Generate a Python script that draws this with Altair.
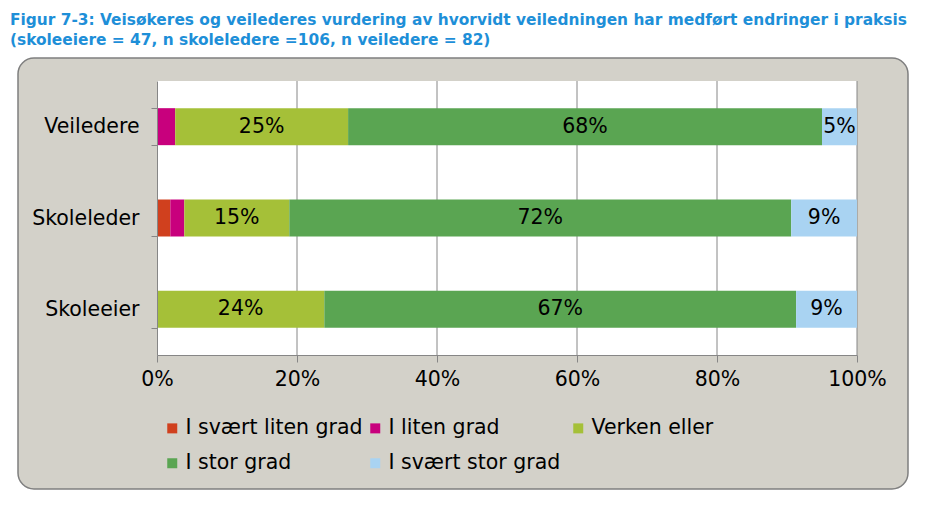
import altair as alt
import pandas as pd

# ---- data ----
categories = ["Veiledere", "Skoleleder", "Skoleeier"]
series = ["I svært liten grad", "I liten grad", "Verken eller", "I stor grad", "I svært stor grad"]
colors = ["#D0401E", "#C8007D", "#A5C038", "#5AA552", "#A9D3F2"]

svaert_liten = [0.0, 1.9, 0.0]
liten = [2.6, 2.0, 0.0]
verken = [24.7, 15.0, 23.9]
stor = [67.7, 71.7, 67.4]
svaert_stor = [5.0, 9.4, 8.7]

x_ticks = [0, 0.2, 0.4, 0.6, 0.8, 1.0]
grid_ticks = [0.2, 0.4, 0.6, 0.8, 1.0]

title_line1 = "Figur 7-3: Veisøkeres og veilederes vurdering av hvorvidt veiledningen har medført endringer i praksis"
title_line2 = "(skoleeiere = 47, n skoleledere =106, n veiledere = 82)"

FONT = "DejaVu Sans"
FS = 20.5
TITLE_FONT = "DejaVu Sans"

# ---- build table ----
values_by_series = [svaert_liten, liten, verken, stor, svaert_stor]
rows = []
for ci, cat in enumerate(categories):
    cum = 0.0
    for si, s in enumerate(series):
        v = values_by_series[si][ci]
        start = cum
        cum += v
        rows.append({
            "category": cat, "series": s, "order": si, "value": v,
            "start": start / 100.0, "end": cum / 100.0,
            "mid": (start + cum) / 200.0,
            "label": f"{round(v)}%" if v >= 4.5 else "",
        })
df = pd.DataFrame(rows)
df = df[df["value"] > 0]

one = pd.DataFrame({"k": [0]})
grid_df = pd.DataFrame({"t": grid_ticks})

W, H = 700, 274

y_enc = alt.Y(
    "category:N", sort=categories,
    scale=alt.Scale(paddingInner=0.595, paddingOuter=0.2975),
    axis=alt.Axis(title=None, labelFontSize=FS, labelFont=FONT, labelColor="#000000",
                  labelPadding=12, tickBand="extent", tickSize=6, tickColor="#868686",
                  domainColor="#868686", grid=False, zindex=1),
)
x_scale = alt.Scale(domain=[0, 1], nice=False)

panel = alt.Chart(one).mark_rect(
    fill="#D3D1C9", stroke="#7F7F7F", strokeWidth=1.5, cornerRadius=16
).encode(x=alt.value(-139), x2=alt.value(751), y=alt.value(-23), y2=alt.value(408))

plot_bg = alt.Chart(one).mark_rect(fill="#FFFFFF").encode(
    x=alt.value(0), x2=alt.value(W), y=alt.value(0), y2=alt.value(H)
)

grid = alt.Chart(grid_df).mark_rule(color="#868686", strokeWidth=1).encode(
    x=alt.X("t:Q", scale=x_scale)
)

bars = alt.Chart(df).mark_bar().encode(
    x=alt.X("start:Q", scale=x_scale,
            axis=alt.Axis(title=None, values=x_ticks, format=".0%", labelFontSize=FS,
                          labelFont=FONT, labelColor="#000000", labelPadding=7,
                          tickSize=7, tickColor="#868686", domainColor="#868686",
                          grid=False, zindex=1, labelFlush=False)),
    x2="end:Q",
    y=y_enc,
    color=alt.Color("series:N", scale=alt.Scale(domain=series, range=colors),
                    legend=alt.Legend(title=None, orient="none", legendX=5, legendY=337,
                                      direction="horizontal",
                                      columns=3, gridAlign="all", columnPadding=2,
                                      rowPadding=14, symbolType="square", symbolSize=100,
                                      symbolStrokeWidth=0, labelFontSize=FS, labelFont=FONT,
                                      labelColor="#000000", labelOffset=3,
                                      labelLimit=400)),
    order=alt.Order("order:Q"),
)

labels = alt.Chart(df).mark_text(fontSize=FS, font=FONT, color="#000000", baseline="middle").encode(
    x=alt.X("mid:Q", scale=x_scale),
    y=alt.Y("category:N", sort=categories),
    text="label:N",
)

t1 = alt.Chart(one).mark_text(
    align="left", baseline="middle", fontSize=15.4, fontWeight="bold", font=TITLE_FONT, color="#1E8FD8"
).encode(x=alt.value(-147), y=alt.value(-61), text=alt.value(title_line1))
t2 = alt.Chart(one).mark_text(
    align="left", baseline="middle", fontSize=15.4, fontWeight="bold", font=TITLE_FONT, color="#1E8FD8"
).encode(x=alt.value(-147), y=alt.value(-41), text=alt.value(title_line2))

chart = alt.layer(panel, plot_bg, grid, bars, labels, t1, t2).properties(
    width=W, height=H,
    autosize=alt.AutoSizeParams(type="none"),
    padding={"left": 149, "top": 73, "right": 60, "bottom": 140},
).configure_view(stroke=None).configure(background="#FFFFFF")

chart.save("out.html", embed_options={"renderer": "svg", "actions": False})
